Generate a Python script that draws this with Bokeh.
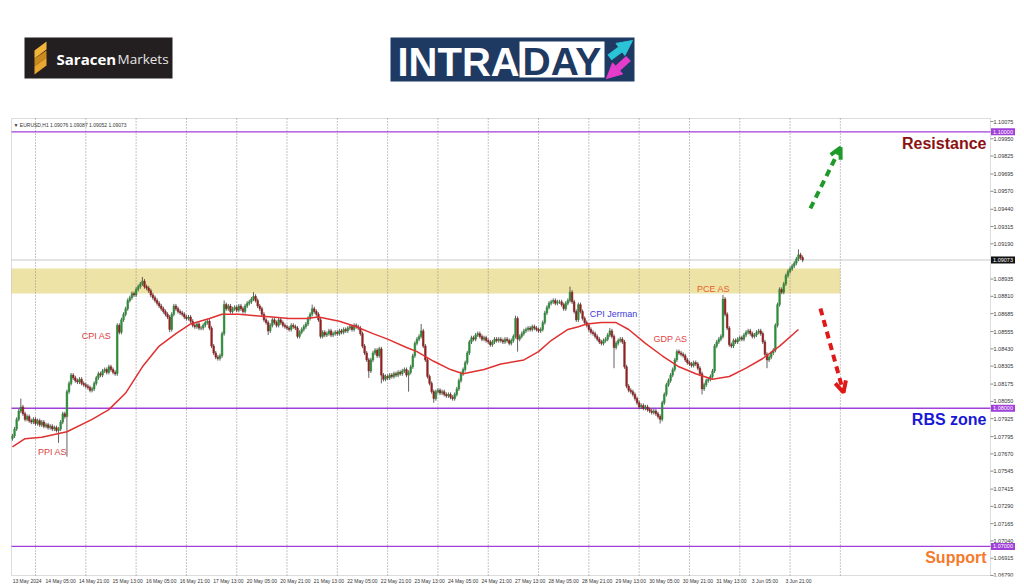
import datetime as dt
from bokeh.plotting import figure
from bokeh.layouts import column
from bokeh.models import (Range1d, FixedTicker, BoxAnnotation, Arrow,
                          NormalHead, OpenHead, ColumnDataSource)
from bokeh.core.properties import value
from bokeh.embed import file_html
from bokeh.resources import INLINE

# ---------------- data ----------------
symbol = "EURUSD,H1"
first_bar = dt.datetime(2024, 5, 13, 13, 0)
base_price = 1.08000
pip = 0.0001
first_open_pips = -22

# hourly closes, in pips above 1.08000 (one row per trading day)
closes_pips = [
    -20, -15, -8, -2, 1, -4, -8, -6, -9, -10, -8,                                              # 13 May
    -11, -9, -12, -10, -13, -12, -14, -13, -15, -14, -16, -15, -10, -4, -6, 12, 18, 24, 22, 20, 19, 21, 18, 17,  # 14 May
    16, 15, 13, 14, 18, 22, 25, 24, 27, 28, 26, 30, 28, 26, 25, 60, 55, 64, 68, 72, 78, 80, 83, 82,            # 15 May
    86, 88, 90, 92, 88, 87, 85, 82, 80, 78, 76, 74, 72, 70, 68, 66, 57, 68, 74, 72, 70, 69, 68, 66,            # 16 May
    65, 66, 63, 60, 59, 61, 58, 58, 60, 62, 63, 58, 45, 40, 37, 36, 38, 54, 75, 72, 74, 70, 72, 73,            # 17 May
    71, 74, 72, 70, 74, 76, 77, 79, 81, 78, 74, 72, 68, 64, 62, 56, 60, 64, 62, 60, 64, 62, 60, 59,            # 20 May
    58, 57, 60, 59, 58, 52, 55, 57, 59, 61, 65, 68, 72, 70, 68, 64, 52, 55, 53, 54, 56, 53, 54, 55,            # 21 May
    54, 56, 55, 57, 56, 58, 59, 57, 60, 59, 58, 54, 45, 40, 35, 27, 35, 40, 42, 38, 43, 24, 21, 23,            # 22 May
    22, 24, 23, 25, 24, 26, 25, 27, 28, 24, 26, 30, 38, 47, 50, 52, 56, 45, 35, 23, 18, 12, 7, 12,             # 23 May
    13, 11, 12, 10, 9, 10, 8, 7, 10, 14, 20, 25, 28, 33, 40, 48, 51, 50, 53, 54, 52, 50, 51, 49,               # 24 May
    48, 46, 48, 50, 49, 50, 49, 48, 50, 49, 47, 49, 52, 65, 50, 52, 54, 56, 57, 58, 57, 59, 58, 57,            # 27 May
    56, 57, 62, 69, 73, 76, 77, 78, 76, 77, 77, 75, 72, 76, 78, 84, 77, 70, 64, 75, 70, 65, 62, 60,            # 28 May
    57, 55, 54, 52, 50, 48, 47, 49, 50, 53, 56, 52, 44, 47, 49, 50, 48, 30, 16, 13, 12, 10, 7, 4,              # 29 May
    1, 2, 0, 1, -1, -2, -3, -2, -4, -6, -8, 4, 10, 17, 20, 24, 28, 35, 41, 40, 39, 38, 35, 33,                 # 30 May
    32, 31, 33, 32, 29, 25, 14, 17, 20, 21, 23, 27, 45, 48, 50, 52, 79, 68, 58, 46, 45, 49, 48, 50,            # 31 May
    51, 50, 53, 55, 56, 54, 52, 53, 55, 56, 54, 48, 39, 35, 37, 40, 42, 60, 75, 86, 84, 90, 96, 99,            # 3 Jun
    101, 103, 105, 108, 111, 109, 107.3,                                                      # 4 Jun
]
# notable wick extremes (bar index -> pips)
wick_highs = {4: 7, 62: 95, 101: 78, 115: 84, 143: 75, 195: 61, 240: 67, 266: 88,
              285: 58, 339: 82, 375: 115}
wick_lows = {22: -25, 26: -35, 75: 55, 122: 53, 170: 22, 176: 18, 189: 12, 201: 4,
             241: 41, 287: 29, 309: -11, 329: 10, 360: 29}
default_wick_pips = 1.5

# moving average (bar index, pips)
ma_bars = [0, 6, 14, 26, 38, 46, 54, 62, 70, 78, 85, 94, 100, 108, 116, 124, 132, 140, 146,
           156, 164, 172, 179, 188, 193, 201, 209, 215, 225, 233, 244, 251, 257, 265, 270,
           274, 281, 288, 294, 302, 310, 318, 326, 334, 342, 350, 358, 366, 375]
ma_pips = [-28, -22, -21, -17, -8, -1, 11, 30, 45, 54, 61, 65, 68, 68, 67, 66, 65, 65, 66,
           63, 59, 54, 50, 44, 41, 34, 28, 25, 28, 32, 35, 41, 49, 57, 59,
           61, 62, 62, 57, 47, 38, 30, 25, 21, 23, 29, 36, 45, 57]

ohlc_header = ["1.09076", "1.09087", "1.09052", "1.09073"]
last_price = 1.09073
levels = [1.10000, 1.08000, 1.07000]
level_names = ["Resistance", "RBS zone", "Support"]
level_name_colors = ["#8B1212", "#1818D6", "#F47A2E"]
zone_low, zone_high = 1.08831, 1.09012
zone_until = dt.datetime(2024, 6, 5, 0, 0)

price_ticks = [1.10075, 1.09950, 1.09825, 1.09695, 1.09570, 1.09440, 1.09315, 1.09190,
               1.08935, 1.08810, 1.08685, 1.08555, 1.08430, 1.08305, 1.08175, 1.08050,
               1.07925, 1.07795, 1.07670, 1.07545, 1.07415, 1.07290, 1.07165, 1.07040,
               1.06915, 1.06790]

event_names = ["PPI AS", "CPI AS", "CPI Jerman", "GDP AS", "PCE AS"]
event_bars = [19.1, 40.1, 286.8, 314.0, 334.5]
event_prices = [1.0768, 1.0852, 1.08679, 1.08498, 1.0886]
event_colors = ["#D84444", "#D83A3A", "#3C3CDC", "#E04646", "#E8602A"]

# scenario arrows: (start bar, start price, end bar, end price)
arrow_up = (380.7, 1.09446, 395.1, 1.09887)
arrow_down = (385.5, 1.08722, 396.5, 1.08114)

# ---------------- derived ----------------
n = len(closes_pips)
times = []
t = first_bar
while len(times) < n + 60:
    if t.weekday() < 5:
        times.append(t)
    t += dt.timedelta(hours=1)

closes = [base_price + c * pip for c in closes_pips]
opens = [base_price + first_open_pips * pip] + closes[:-1]
highs, lows = [], []
for i in range(n):
    hi = wick_highs.get(i)
    lo = wick_lows.get(i)
    top = max(opens[i], closes[i])
    bot = min(opens[i], closes[i])
    highs.append(base_price + hi * pip if hi is not None else top + default_wick_pips * pip)
    lows.append(base_price + lo * pip if lo is not None else bot - default_wick_pips * pip)

bull = [c >= o for o, c in zip(opens, closes)]
src = ColumnDataSource(dict(
    x=list(range(n)), h=highs, l=lows,
    top=[max(o, c) for o, c in zip(opens, closes)],
    bot=[min(o, c) for o, c in zip(opens, closes)],
    col=["#2E8B3A" if b else "#8E2222" for b in bull],
))

zone_end_bar = times.index(zone_until)
grid_bars = [i for i, tt in enumerate(times) if tt.hour == 0 and i <= zone_end_bar]

tick_bars = list(range(0, n, 16))
tick_labels = []
for k, i in enumerate(tick_bars):
    d = times[i]
    tick_labels.append(f"{d.day} {d:%b} {d.year}" if k == 0 else f"{d.day} {d:%b} {d:%H:%M}")
label_shift = 7

FONT = "Liberation Sans"

# ---------------- geometry (screen scale) ----------------
PX_PER_BAR = 2.096
PX_PER_PRICE = 13820.0
bar_px = 1.0 / PX_PER_BAR
CH_W, CH_H = 1024, 475
HEAD_H = 112
B_LEFT, B_TOP, B_BOTTOM = 10, 5, 11
frame_w = CH_W - B_LEFT
frame_h = CH_H - B_TOP - B_BOTTOM
x0 = -0.93
x1 = x0 + frame_w * bar_px
y1 = 1.10104
y0 = y1 - frame_h / PX_PER_PRICE
chart_left = x0 + 1 * bar_px          # border of the chart area
chart_right = x0 + 980 * bar_px       # price scale line
chart_top = y1 - 1 / PX_PER_PRICE
chart_bottom = y0 + 1 / PX_PER_PRICE

# ---------------- chart ----------------
p = figure(width=CH_W, height=CH_H, x_range=Range1d(x0, x1), y_range=Range1d(y0, y1),
           y_axis_location=None, output_backend="svg", toolbar_location=None, title=None,
           min_border_left=B_LEFT, min_border_top=B_TOP, min_border_bottom=B_BOTTOM,
           min_border_right=0)
p.xgrid.visible = False
p.ygrid.visible = False
p.outline_line_color = None
p.background_fill_color = "white"
p.border_fill_color = "white"

p.xaxis.ticker = FixedTicker(ticks=[i + label_shift for i in tick_bars])
p.xaxis.major_label_overrides = {i + label_shift: s for i, s in zip(tick_bars, tick_labels)}
p.xaxis.major_tick_out = 0
p.xaxis.major_tick_in = 0
p.xaxis.minor_tick_out = 0
p.xaxis.minor_tick_in = 0
p.xaxis.axis_line_color = None
p.xaxis.major_label_standoff = 1
p.xaxis.major_label_text_font_size = "5px"
p.xaxis.major_label_text_color = "#333333"
p.xaxis.major_label_text_font = FONT

# yellow zone
p.add_layout(BoxAnnotation(bottom=zone_low, top=zone_high, left=chart_left, right=zone_end_bar,
                           fill_color="#EDE3A6", fill_alpha=1.0, line_color=None, level="underlay"))
# daily grid lines
p.segment(x0=grid_bars, y0=[chart_bottom] * len(grid_bars), x1=grid_bars,
          y1=[chart_top] * len(grid_bars), line_color="#8C8C8C", line_dash="1 2", line_width=1)
# chart border
p.add_layout(BoxAnnotation(left=chart_left, right=chart_right, bottom=chart_bottom, top=chart_top,
                           fill_color=None, fill_alpha=0, line_color="#8A8A8A", line_width=1))
# last price line and levels
p.segment(x0=[chart_left], y0=[last_price], x1=[chart_right], y1=[last_price],
          line_color="#C8C8C8", line_width=1)
p.segment(x0=[chart_left] * 3, y0=levels, x1=[chart_right] * 3, y1=levels,
          line_color="#A040D8", line_width=1.3)

# candles
p.segment(x0="x", y0="l", x1="x", y1="h", source=src, line_color="#3A3A3A", line_width=0.8)
p.vbar(x="x", top="top", bottom="bot", width=0.75, source=src, fill_color="col",
       line_color="col", line_width=0.6)

# moving average
p.line(ma_bars, [base_price + v * pip for v in ma_pips], line_color="#E03030", line_width=1.5)

# event labels
p.text(x=event_bars, y=event_prices, text=event_names, text_color=event_colors,
       text_font=value(FONT), text_font_size="9px", text_align="center",
       text_baseline="middle")

# level names
p.text(x=[chart_right - 4 * bar_px] * 3, y=levels, text=level_names, text_color=level_name_colors,
       text_font=value(FONT), text_font_style="bold", text_font_size="16px",
       text_align="right", text_baseline="top", y_offset=3)

# scenario arrows
p.add_layout(Arrow(x_start=arrow_up[0], y_start=arrow_up[1], x_end=arrow_up[2], y_end=arrow_up[3],
                   line_color="#1E9A28", line_width=4, line_dash="7 5",
                   end=OpenHead(size=11, line_color="#1E9A28", line_width=4)))
p.add_layout(Arrow(x_start=arrow_down[0], y_start=arrow_down[1], x_end=arrow_down[2], y_end=arrow_down[3],
                   line_color="#E01818", line_width=4, line_dash="7 5",
                   end=OpenHead(size=11, line_color="#E01818", line_width=4)))

# header text inside the chart
p.text(x=[chart_left + 2 * bar_px], y=[chart_top], y_offset=3,
       text=["\u25BC " + symbol + "  " + " ".join(ohlc_header)],
       text_font=value(FONT), text_font_size="5px", text_color="#333333", text_baseline="top")

# price scale (right)
p.segment(x0=[chart_right] * len(price_ticks), y0=price_ticks,
          x1=[chart_right + 3 * bar_px] * len(price_ticks), y1=price_ticks,
          line_color="#8A8A8A", line_width=1)
p.text(x=[chart_right + 3 * bar_px] * len(price_ticks), y=price_ticks,
       text=[f"{v:.5f}" for v in price_ticks], text_font=value(FONT), text_font_size="5.5px",
       text_color="#333333", text_baseline="middle", text_align="left")
box_prices = levels + [last_price]
box_colors = ["#A040D8"] * len(levels) + ["#111111"]
p.rect(x=[chart_right + 12.5 * bar_px] * len(box_prices), y=box_prices, width=24, height=7,
       width_units="screen", height_units="screen", fill_color=box_colors, line_color=None)
p.text(x=[chart_right + 12.5 * bar_px] * len(box_prices), y=box_prices,
       text=[f"{v:.5f}" for v in box_prices], text_font=value(FONT), text_font_size="5.5px",
       text_color="white", text_baseline="middle", text_align="center")

# ---------------- header (logos) ----------------
# the column aligns this frame with the chart frame, so it starts B_LEFT px in
h = figure(width=CH_W, height=HEAD_H, x_range=Range1d(B_LEFT, CH_W), y_range=Range1d(HEAD_H, 0),
           output_backend="svg", toolbar_location=None, title=None,
           x_axis_location=None, y_axis_location=None, min_border=0, min_border_left=B_LEFT)
h.grid.visible = False
h.outline_line_color = None
h.border_fill_color = "white"
h.background_fill_color = "white"

# Saracen Markets
h.quad(left=24, right=172, top=37, bottom=78, fill_color="#231F20", line_color=None)
h.patch([34, 46, 46, 34], [50, 41, 49, 58], fill_color="#F2B53A", line_color=None)
h.patch([34, 46, 46, 34], [58, 50, 57, 66], fill_color="#C98A1E", line_color=None)
h.patch([34, 46, 46, 34], [66, 57, 65, 74], fill_color="#E9A631", line_color=None)
h.text(x=[56], y=[58], text=["Saracen"], text_font=value("Open Sans"), text_font_style="bold",
       text_font_size="15px", text_color="white", text_baseline="middle")
h.text(x=[117], y=[58], text=["Markets"], text_font=value("Open Sans"),
       text_font_size="13.5px", text_color="#E6E6E6", text_baseline="middle")

# INTRADAY
NAVY = "#1F3A62"
h.quad(left=390, right=634, top=37, bottom=81, fill_color=NAVY, line_color=None)
h.quad(left=519, right=604, top=41, bottom=77, fill_color="white", line_color=None)
h.text(x=[397], y=[61], text=["INTRA"], text_font=value("Liberation Sans"),
       text_font_style="bold", text_font_size="40px", text_color="white",
       text_baseline="middle")
h.text(x=[561.5], y=[61], text=["DAY"], text_font=value("Liberation Sans"),
       text_font_style="bold", text_font_size="39px", text_color=NAVY,
       text_align="center", text_baseline="middle")
h.add_layout(Arrow(x_start=609, y_start=57, x_end=632, y_end=40, line_color="#2BC3D6",
                   line_width=7, end=NormalHead(size=15, fill_color="#2BC3D6", line_color="#2BC3D6")))
h.add_layout(Arrow(x_start=628, y_start=58, x_end=606, y_end=78, line_color="#E43CCB",
                   line_width=7, end=NormalHead(size=15, fill_color="#E43CCB", line_color="#E43CCB")))

layout = column(h, p, spacing=0)
open("out.html", "w").write(file_html(layout, INLINE))
